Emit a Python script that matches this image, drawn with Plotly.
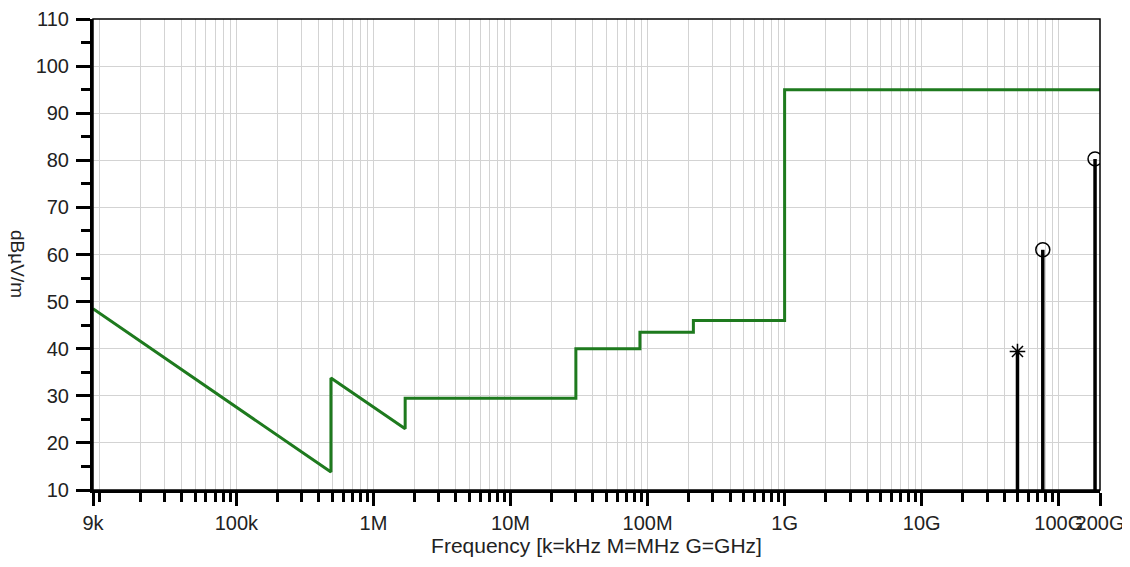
import numpy as np
import plotly.graph_objects as go

# Limit line (frequency in Hz, level in dBuV/m)
limit_freq = [9e3, 490e3, 490e3, 1.705e6, 1.705e6, 30e6, 30e6, 88e6, 88e6, 216e6, 216e6, 1e9, 1e9, 200e9]
limit_level = [48.5, 13.8, 33.8, 23.0, 29.5, 29.5, 40.0, 40.0, 43.5, 43.5, 46.0, 46.0, 95.0, 95.0]

# Measured emissions
meas_freq = [50e9, 76.5e9, 184e9]
meas_level = [39.4, 61.0, 80.3]
meas_symbol = ["asterisk-open", "circle-open", "circle-open"]

# Axis ticks
x_tick_vals = [9e3, 1e5, 1e6, 1e7, 1e8, 1e9, 1e10, 1e11, 2e11]
x_tick_text = ["9k", "100k", "1M", "10M", "100M", "1G", "10G", "100G", "200G"]
y_min, y_max = 10, 110

minor_x = [m * 10 ** e for e in range(4, 12) for m in range(1, 10)
           if 9e3 < m * 10 ** e < 2e11 and m * 10 ** e not in x_tick_vals]

GREEN = "#1e7a1e"
FAM = "Liberation Sans, Arial, sans-serif"
fig = go.Figure()

fig.add_trace(go.Scatter(x=limit_freq, y=limit_level, mode="lines",
                         line=dict(color=GREEN, width=3), showlegend=False))

for f, v, s in zip(meas_freq, meas_level, meas_symbol):
    fig.add_trace(go.Scatter(x=[f, f], y=[y_min, v], mode="lines",
                             line=dict(color="black", width=3.5), showlegend=False))
    fig.add_trace(go.Scatter(x=[f], y=[v], mode="markers",
                             marker=dict(symbol=s, size=14 if "circle" in s else 13,
                                         color="black", line=dict(width=1.5, color="black")),
                             showlegend=False))

font = dict(family=FAM, size=20, color="#222")

fig.update_layout(
    width=1130, height=567,
    margin=dict(l=85, r=38, t=11, b=85),
    plot_bgcolor="white", paper_bgcolor="white",
    font=font,
    xaxis=dict(
        type="log", range=[np.log10(9e3), np.log10(2e11)],
        tickmode="array", tickvals=x_tick_vals, ticktext=x_tick_text, tickangle=0,
        ticks="outside", ticklen=13, tickwidth=3, tickcolor="black",
        showline=True, linewidth=3, linecolor="black",
        showgrid=True, gridcolor="#d3d3d3", gridwidth=1,
        minor=dict(tickmode="array", tickvals=minor_x, ticks="outside", ticklen=9,
                   tickwidth=3, tickcolor="black", showgrid=True,
                   gridcolor="#d3d3d3", gridwidth=1),
        title=dict(text="Frequency [k=kHz M=MHz G=GHz]", font=dict(family=FAM, size=21, color="#222"), standoff=0),
        zeroline=False, tickfont=font, automargin=False, ticklabelstandoff=0,
        ticklabeloverflow="allow",
    ),
    yaxis=dict(
        range=[y_min, y_max], tickmode="linear", tick0=10, dtick=10,
        ticks="outside", ticklen=14, tickwidth=3, tickcolor="black",
        showline=True, linewidth=3, linecolor="black",
        showgrid=True, gridcolor="#d3d3d3", gridwidth=1,
        minor=dict(dtick=5, ticks="outside", ticklen=9, tickwidth=3,
                   tickcolor="black", showgrid=False),
        zeroline=False, tickfont=font, automargin=False, ticklabelstandoff=3,
        ticklabeloverflow="allow",
    ),
    shapes=[dict(type="rect", xref="paper", yref="paper", x0=0, x1=1, y0=0, y1=1,
                 line=dict(color="black", width=1.5), layer="above")],
    annotations=[dict(text="dBµV/m", xref="paper", yref="paper", x=-0.088, y=0.48,
                      textangle=90, showarrow=False,
                      font=dict(family=FAM, size=19, color="#222"))],
)

fig.write_html("out.html")
